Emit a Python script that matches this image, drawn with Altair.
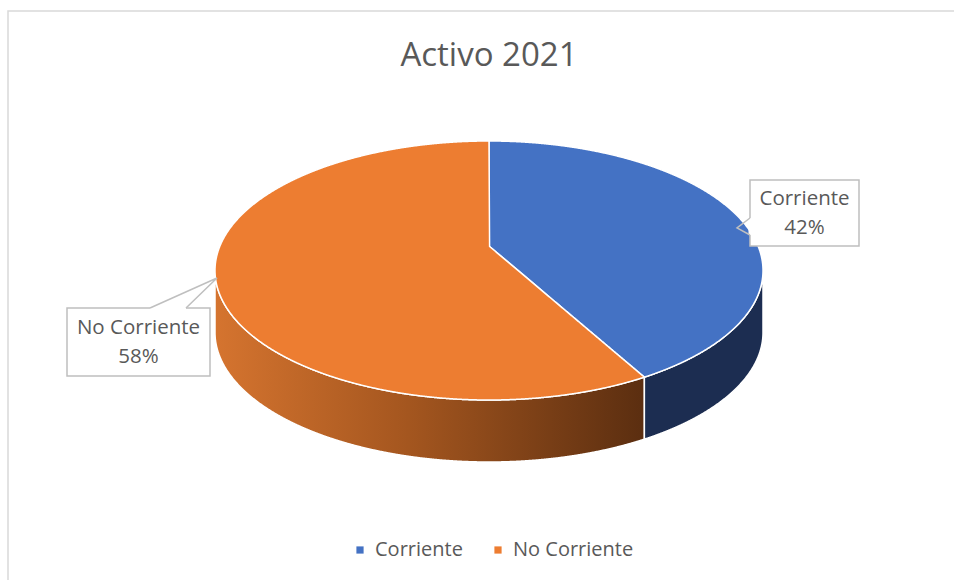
import numpy as np
import pandas as pd
import altair as alt

# ---------------- data ----------------
CATEGORIES = ["Corriente", "No Corriente"]
VALUES = [42, 58]
PCT_LABELS = ["42%", "58%"]
TITLE = "Activo 2021"

# ---------------- styling / layout ----------------
TOP_COLORS = ["#4472C4", "#ED7D31"]
SIDE_NAVY = "#1c2d51"
TEXT_COLOR = "#595959"
FONT = "Open Sans"
W, H = 954, 580
CX, CY, RX, RY, DEPTH = 489, 270.5, 274, 129.5, 62
APEX_Y = 246  # projected pie centre (perspective view)

# callout boxes (left, right, top, bottom) and pointer polylines
BOXES = {
    "Corriente": (750, 859, 180, 246),
    "No Corriente": (67, 210, 308, 376),
}
POINTERS = {
    "Corriente": [(750, 218), (737, 228), (750, 235)],
    "No Corriente": [(150, 308), (217, 278), (186, 308)],
}

# ---------------- geometry derived from the values ----------------
shares = np.array(VALUES, dtype=float) / float(sum(VALUES))
theta1 = 2 * np.pi * shares[0]
# perspective: projective map of the unit disc sending its centre to the apex
s = np.arctanh((APEX_Y - CY) / RY)
den = np.sinh(s) * (-np.cos(theta1)) + np.cosh(s)
ux = np.sin(theta1) / den
uy = (np.cosh(s) * (-np.cos(theta1)) + np.sinh(s)) / den
px = CX + RX * ux
py = CY + RY * uy
ax, ay = CX, APEX_Y

t = np.linspace(0, np.pi, 1441)
xs = np.unique(np.concatenate([CX - RX * np.cos(t), [CX, px]]))


def top(x):
    return CY - RY * np.sqrt(np.clip(1 - ((x - CX) / RX) ** 2, 0, 1))


def bot(x):
    return CY + RY * np.sqrt(np.clip(1 - ((x - CX) / RX) ** 2, 0, 1))


def ray(x):
    return ay + (x - ax) * (py - ay) / (px - ax)


rows = []
xc = xs[xs >= CX]
for x in xc:
    rows.append({"cat": CATEGORIES[0], "x": x, "y": top(x),
                 "y2": ray(x) if x <= px else bot(x)})
xn = xs[xs <= px]
for x in xn:
    rows.append({"cat": CATEGORIES[1], "x": x,
                 "y": top(x) if x <= CX else ray(x), "y2": bot(x)})
top_df = pd.DataFrame(rows)

side_nc = pd.DataFrame({"x": xn, "y": bot(xn), "y2": bot(xn) + DEPTH})
xr = xs[xs >= px]
side_c = pd.DataFrame({"x": xr, "y": bot(xr), "y2": bot(xr) + DEPTH})

xscale = alt.Scale(domain=[0, W], range=[0, W], nice=False, zero=False)
yscale = alt.Scale(domain=[0, H], range=[0, H], nice=False, zero=False)

X = alt.X("x:Q", scale=xscale, axis=None)
Y = alt.Y("y:Q", scale=yscale, axis=None, stack=None)

# border
border = alt.Chart(pd.DataFrame({"x": [8], "x2": [W + 30], "y": [11], "y2": [H + 30]})).mark_rect(
    fill="white", stroke="#d9d9d9", strokeWidth=1.5
).encode(x=X, x2="x2:Q", y=Y, y2="y2:Q")

gradient = alt.Gradient(
    gradient="linear",
    stops=[
        alt.GradientStop(color="#d5742f", offset=0),
        alt.GradientStop(color="#a4561f", offset=0.45),
        alt.GradientStop(color="#5b2e10", offset=1),
    ],
    x1=0, x2=1, y1=0, y2=0,
)

side_nc_layer = alt.Chart(side_nc).mark_area(
    color=gradient, stroke="white", strokeWidth=1.5
).encode(x=X, y=Y, y2="y2:Q")

side_c_layer = alt.Chart(side_c).mark_area(
    color=SIDE_NAVY, stroke="white", strokeWidth=1.5
).encode(x=X, y=Y, y2="y2:Q")

top_layer = alt.Chart(top_df).mark_area(stroke="white", strokeWidth=1.5).encode(
    x=X,
    y=Y,
    y2="y2:Q",
    color=alt.Color(
        "cat:N",
        scale=alt.Scale(domain=CATEGORIES, range=TOP_COLORS),
        legend=alt.Legend(
            orient="none", legendX=350, legendY=540, direction="horizontal",
            title=None, symbolType="square", symbolSize=52, symbolStrokeWidth=0,
            labelFontSize=20, labelFont=FONT, labelColor=TEXT_COLOR,
            labelOffset=5, columnPadding=25, padding=0,
        ),
    ),
)

# callouts
box_rows = []
gap_rows = []
for cat, pct in zip(CATEGORIES, PCT_LABELS):
    l, r, tp, b = BOXES[cat]
    box_rows.append({"cat": cat, "x": l, "x2": r, "y": tp, "y2": b,
                     "cx": (l + r) / 2, "cy": (tp + b) / 2 - 14.5,
                     "label": f"{cat}\n{pct}"})
    p = POINTERS[cat]
    gap_rows.append({"x": p[0][0], "x2": p[-1][0], "y": p[0][1], "y2": p[-1][1]})
box_df = pd.DataFrame(box_rows)
box_layer = alt.Chart(box_df).mark_rect(
    fill="white", stroke="#bfbfbf", strokeWidth=1.5
).encode(x=X, x2="x2:Q", y=Y, y2="y2:Q")

gap_layer = alt.Chart(pd.DataFrame(gap_rows)).mark_rule(
    color="white", strokeWidth=3
).encode(x=X, x2="x2:Q", y=Y, y2="y2:Q")

ptr_rows = []
for cat, pts in POINTERS.items():
    for i, (x, y) in enumerate(pts):
        ptr_rows.append({"cat": cat, "i": i, "x": x, "y": y})
pointer_layer = alt.Chart(pd.DataFrame(ptr_rows)).mark_line(
    color="#bfbfbf", strokeWidth=1.5, strokeJoin="miter"
).encode(x=X, y=Y, detail="cat:N", order="i:Q")

label_layer = alt.Chart(box_df).mark_text(
    font=FONT, fontSize=20.5, color=TEXT_COLOR, lineBreak="\n", lineHeight=29,
    align="center", baseline="middle"
).encode(
    x=alt.X("cx:Q", scale=xscale, axis=None),
    y=alt.Y("cy:Q", scale=yscale, axis=None),
    text="label:N",
)

title_layer = alt.Chart(pd.DataFrame({"x": [CX], "y": [66], "t": [TITLE]})).mark_text(
    font=FONT, fontSize=33, color=TEXT_COLOR, align="center", baseline="alphabetic"
).encode(x=X, y=alt.Y("y:Q", scale=yscale, axis=None), text="t:N")

chart = alt.layer(
    border, side_nc_layer, side_c_layer, top_layer,
    box_layer, gap_layer, pointer_layer, label_layer, title_layer
).properties(
    width=W, height=H, padding=0,
    autosize=alt.AutoSizeParams(type="none"),
    background="white",
).configure_view(stroke=None)

chart.save("out.html", embed_options={"renderer": "svg", "actions": False})
